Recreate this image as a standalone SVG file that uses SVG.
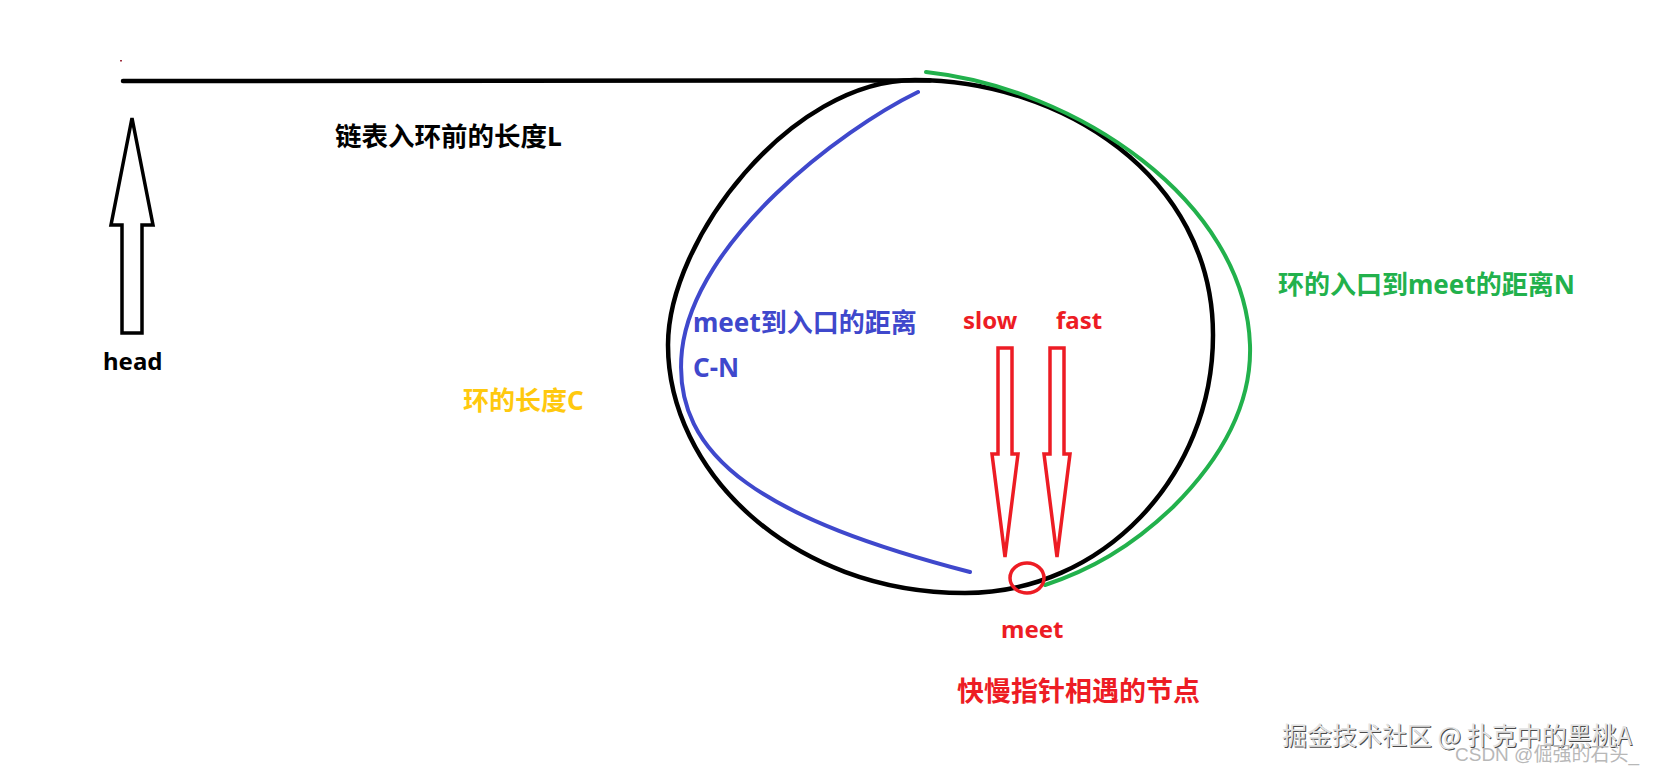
<svg xmlns="http://www.w3.org/2000/svg" width="1653" height="772" viewBox="0 0 1653 772">
<style>
.t{font-family:"Noto Sans","Noto Sans CJK SC",sans-serif;font-weight:700;}
.blk{fill:none;stroke:#000;stroke-width:4.5;stroke-linecap:round;stroke-linejoin:round;}
.ptr{fill:#fff;stroke:#ED1C24;stroke-width:3.5;stroke-linejoin:miter;}
.red{fill:#ED1C24;}
.wm{font-family:"Noto Sans CJK SC",sans-serif;font-weight:400;}
</style>
<rect x="0" y="0" width="1653" height="772" fill="#fff"/>
<rect x="120" y="60" width="2" height="1.5" fill="#a03040"/>

<g id="connectors">
  <line id="list-line" class="blk" x1="123" y1="81" x2="930" y2="80.5"/>
  <path id="cycle" class="blk" d="M915,80 C1060,80 1213,175 1213,335 C1213,477 1102,593 965,593 C790,593 668,470 668,345 C668,240 790,80 915,80 Z"/>
  <path id="arc-cn" fill="none" stroke="#3F48CC" stroke-width="4" stroke-linecap="round" d="M918,92 C840,130 695,240 682,350 C670,460 770,520 970,572"/>
  <path id="arc-n" fill="none" stroke="#22B14C" stroke-width="4" stroke-linecap="round" d="M926,72 C1075,88 1245,200 1250,345 C1252,405 1220,460 1173,507 C1130,548 1090,570 1045,585"/>
</g>

<g id="head">
  <polygon points="132,118 153,225 142,225 142,333 122,333 122,225 111,225" fill="#fff" stroke="#000" stroke-width="3.5" stroke-linejoin="miter"/>
  <text class="t" x="103" y="370" font-size="24" fill="#000">head</text>
</g>

<g id="label-L">
  <text class="t" x="335" y="146" font-size="26.5" fill="#000">链表入环前的长度L</text>
</g>

<g id="label-C">
  <text class="t" x="463" y="410" font-size="26" fill="#FFC90E">环的长度C</text>
</g>

<g id="label-CN">
  <text class="t" x="693" y="332" font-size="26" fill="#3F48CC">meet到入口的距离</text>
  <text class="t" x="693" y="377" font-size="26" fill="#3F48CC">C-N</text>
</g>

<g id="label-N">
  <text class="t" x="1278" y="294" font-size="26" fill="#22B14C">环的入口到meet的距离N</text>
</g>

<g id="slow">
  <text class="t red" x="963" y="329" font-size="24">slow</text>
  <polygon class="ptr" points="998,348 1012,348 1012,454 1018,454 1005,557 992,454 998,454"/>
</g>

<g id="fast">
  <text class="t red" x="1056" y="329" font-size="24">fast</text>
  <polygon class="ptr" points="1050,348 1064,348 1064,454 1070,454 1057,557 1044,454 1050,454"/>
</g>

<g id="meet">
  <ellipse cx="1027" cy="578" rx="17" ry="15" fill="none" stroke="#ED1C24" stroke-width="3.5"/>
  <text class="t red" x="1001" y="638" font-size="24">meet</text>
  <text class="t red" x="957" y="701" font-size="27">快慢指针相遇的节点</text>
</g>

<g id="watermark">
  <text class="wm" x="1283" y="746" font-size="25" fill="#4a4a4a">掘金技术社区 @ 扑克中的黑桃A</text>
  <text class="wm" x="1282" y="745" font-size="25" fill="#e2e2e2">掘金技术社区 @ 扑克中的黑桃A</text>
  <text x="1455" y="761" font-size="19" fill="#b8b8b8" style="font-family:'Liberation Sans','Noto Sans CJK SC',sans-serif;">CSDN @倔强的石头_</text>
</g>
</svg>
